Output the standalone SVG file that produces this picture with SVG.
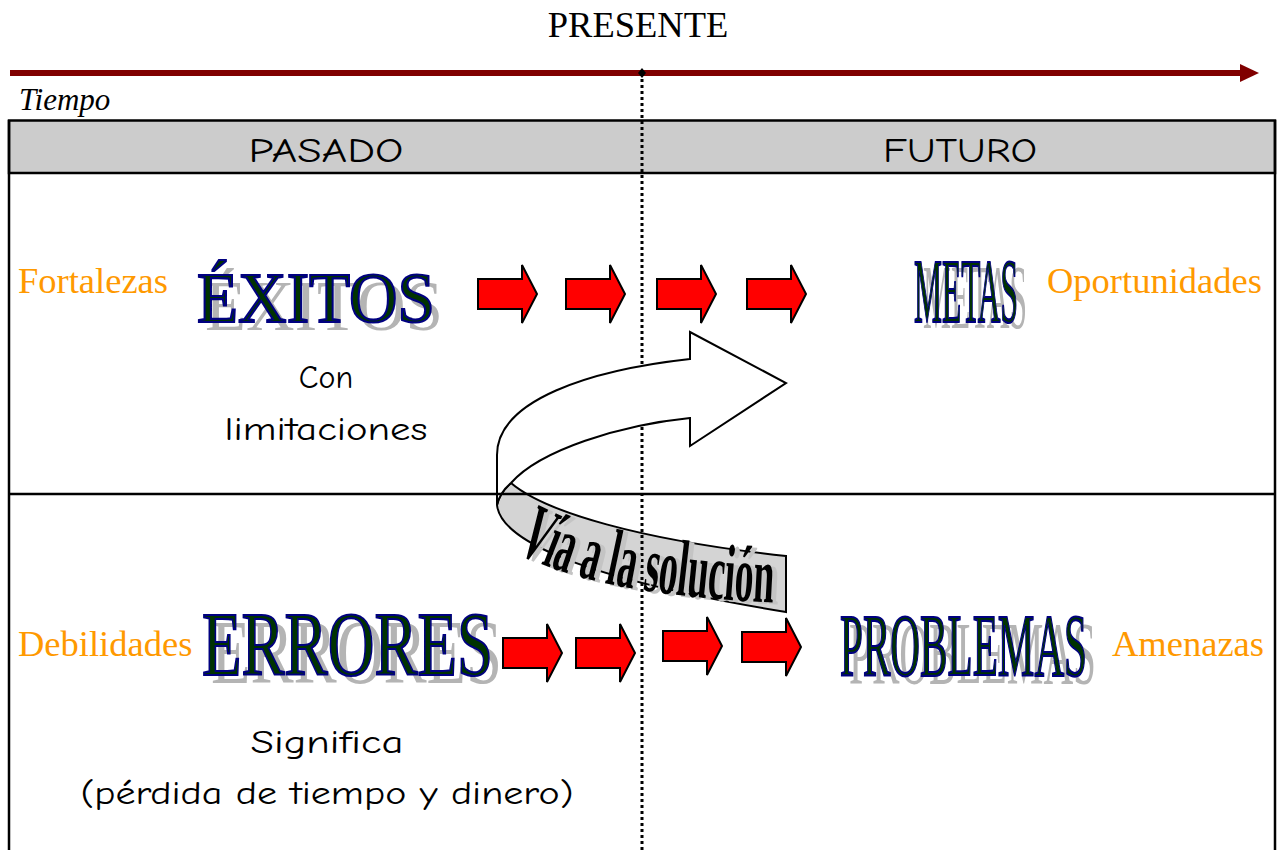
<svg xmlns="http://www.w3.org/2000/svg" width="1277" height="850" viewBox="0 0 1277 850">
<style>
.serif{font-family:"Liberation Serif","Times New Roman",serif}
.comic{font-family:"Comic Sans MS","Comic Neue","DejaVu Sans",sans-serif;fill:#000}
.orange{font-family:"Liberation Serif","Times New Roman",serif;font-size:36.5px;fill:#FF9900}
.word{font-family:"Liberation Serif","Times New Roman",serif;fill:#003300;stroke:#000080;stroke-width:2.2}
.shadow{font-family:"Liberation Serif","Times New Roman",serif;fill:#b4b4b4}
.rule{stroke:#000;stroke-width:2.5;fill:none}
.redarrow{fill:#FF0000;stroke:#000;stroke-width:2;stroke-linejoin:miter}
</style>
<defs>
<path id="ra" d="M0,-15 L44,-15 L44,-29 L59,0 L44,29 L44,15 L0,15 Z"/>
<path id="ribbonPath" d="M516,552 C570,582 660,598 784,603"/>
</defs>
<rect width="1277" height="850" fill="#fff"/>

<g id="timeline">
<line x1="10" y1="73" x2="1242" y2="73" stroke="#800000" stroke-width="6"/>
<polygon points="1240,64 1259,73 1240,82" fill="#800000"/>
<text x="638" y="37" class="serif" font-size="36.5" text-anchor="middle" fill="#000">PRESENTE</text>
<text x="19" y="110" class="serif" font-size="31" font-style="italic" fill="#000">Tiempo</text>
</g>

<g id="header">
<rect x="9" y="120.5" width="1266" height="52.5" fill="#cccccc" stroke="#000" stroke-width="2.5"/>
<text x="326" y="162" class="comic" font-size="34" text-anchor="middle" textLength="155" lengthAdjust="spacingAndGlyphs">PASADO</text>
<text x="960" y="162" class="comic" font-size="34" text-anchor="middle" textLength="154" lengthAdjust="spacingAndGlyphs">FUTURO</text>
</g>

<g id="frame">
<line class="rule" x1="9" y1="120" x2="9" y2="850"/>
<line class="rule" x1="1275" y1="120" x2="1275" y2="850"/>
</g>

<g id="ribbon-back">
<path d="M511,483 C545,512 640,540 786,556 L786,612 C560,575 500,535 497,505 C499,496 504,489 511,483 Z" fill="#d4d4d4" stroke="#000" stroke-width="2"/>
</g>

<line id="present-line" x1="642" y1="73" x2="642" y2="850" stroke="#000" stroke-width="3" stroke-dasharray="3,3"/>
<polygon points="642,68 646,73 642,78 638,73" fill="#000"/>

<g id="ribbon-front">
<path d="M497,505 L497,455 C497,400 590,370 690,359 L690,332 L786,383 L690,446 L690,418 C620,425 540,450 511,483 C504,489 499,496 497,505 Z" fill="#fff" stroke="#000" stroke-width="2"/>
<text class="serif" font-size="80" font-weight="bold" fill="#c4c4c4" transform="translate(5,2)"><textPath href="#ribbonPath" textLength="264" lengthAdjust="spacingAndGlyphs">Vía a la solución</textPath></text>
<text class="serif" font-size="80" font-weight="bold" fill="#000"><textPath href="#ribbonPath" textLength="264" lengthAdjust="spacingAndGlyphs">Vía a la solución</textPath></text>
</g>

<line id="mid-rule" class="rule" x1="9" y1="494" x2="1275" y2="494"/>

<g id="exitos">
<text x="205" y="330" class="shadow" font-size="71" textLength="238" lengthAdjust="spacingAndGlyphs">ÉXITOS</text>
<text x="197" y="322" class="word" font-size="71" textLength="238" lengthAdjust="spacingAndGlyphs">ÉXITOS</text>
</g>
<g id="con-limitaciones">
<text x="326" y="388" class="comic" font-size="32" text-anchor="middle">Con</text>
<text x="326" y="440" class="comic" font-size="32" text-anchor="middle" textLength="203" lengthAdjust="spacingAndGlyphs">limitaciones</text>
</g>
<g id="metas">
<text x="923" y="328" class="shadow" font-size="91" textLength="104" lengthAdjust="spacingAndGlyphs">METAS</text>
<text x="914" y="322" class="word" font-size="91" textLength="104" lengthAdjust="spacingAndGlyphs">METAS</text>
</g>
<g id="errores">
<text x="211" y="683" class="shadow" font-size="91" textLength="291" lengthAdjust="spacingAndGlyphs">ERRORES</text>
<text x="202" y="675" class="word" font-size="91" textLength="291" lengthAdjust="spacingAndGlyphs">ERRORES</text>
</g>
<g id="significa">
<text x="327" y="753" class="comic" font-size="33" text-anchor="middle" textLength="153" lengthAdjust="spacingAndGlyphs">Significa</text>
<text x="327" y="804" class="comic" font-size="33" text-anchor="middle" textLength="493" lengthAdjust="spacingAndGlyphs">(pérdida de tiempo y dinero)</text>
</g>
<g id="problemas">
<text x="849" y="683" class="shadow" font-size="88" textLength="247" lengthAdjust="spacingAndGlyphs">PROBLEMAS</text>
<text x="840" y="675" class="word" font-size="88" textLength="247" lengthAdjust="spacingAndGlyphs">PROBLEMAS</text>
</g>

<g id="labels">
<text id="fortalezas" x="18" y="293" class="orange">Fortalezas</text>
<text id="oportunidades" x="1047" y="293" class="orange">Oportunidades</text>
<text id="debilidades" x="18" y="656" class="orange">Debilidades</text>
<text id="amenazas" x="1112" y="656" class="orange">Amenazas</text>
</g>

<g id="connectors">
<use href="#ra" class="redarrow" x="478" y="294"/>
<use href="#ra" class="redarrow" x="566" y="294"/>
<use href="#ra" class="redarrow" x="657" y="294"/>
<use href="#ra" class="redarrow" x="747" y="294"/>
<use href="#ra" class="redarrow" x="503" y="653"/>
<use href="#ra" class="redarrow" x="576" y="653"/>
<use href="#ra" class="redarrow" x="663" y="646"/>
<use href="#ra" class="redarrow" x="742" y="647"/>
</g>
</svg>
